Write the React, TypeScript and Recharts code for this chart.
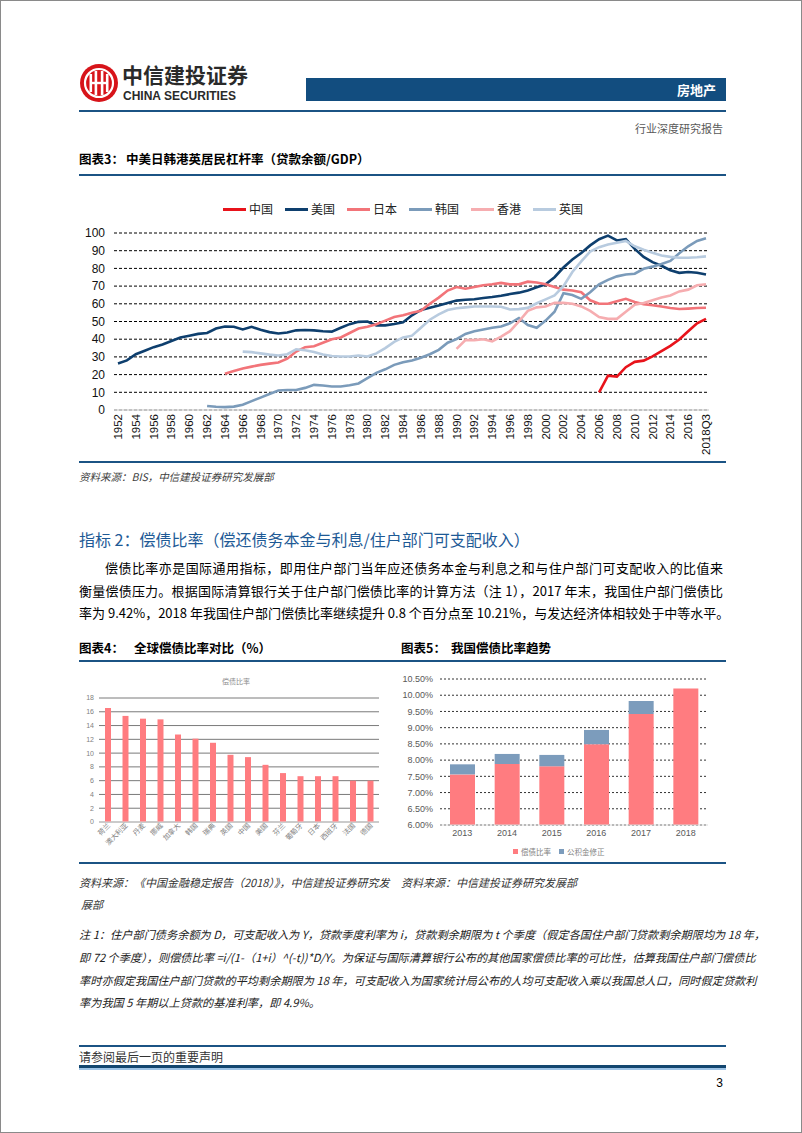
import React from 'react';
import { LineChart, Line, BarChart, Bar, XAxis, YAxis, CartesianGrid } from 'recharts';

const CJK = '"Noto Sans CJK SC", "Noto Sans", sans-serif';
const ARIAL = '"Liberation Sans", Arial, sans-serif';
const BLUE = '#1B5384';

// 图表3：中美日韩港英居民杠杆率（贷款余额/GDP）
const years = [
  1952, 1953, 1954, 1955, 1956, 1957, 1958, 1959, 1960, 1961, 1962, 1963, 1964, 1965, 1966, 1967,
  1968, 1969, 1970, 1971, 1972, 1973, 1974, 1975, 1976, 1977, 1978, 1979, 1980, 1981, 1982, 1983,
  1984, 1985, 1986, 1987, 1988, 1989, 1990, 1991, 1992, 1993, 1994, 1995, 1996, 1997, 1998, 1999,
  2000, 2001, 2002, 2003, 2004, 2005, 2006, 2007, 2008, 2009, 2010, 2011, 2012, 2013, 2014, 2015,
  2016, 2017, 2018,
];
const lastYearLabel = '2018Q3';
const leverageTicks = [0, 10, 20, 30, 40, 50, 60, 70, 80, 90, 100];

const china = [10, 19.4, 18.9, 24.2, 27.2, 27.9, 30.3, 33.3, 36.2, 39.8, 44.5, 49, 51.5]; // 2006-
const usa = [
  26.3, 28, 31.5, 33.5, 35.5, 37, 39, 41, 42, 43,
  43.5, 46, 47.2, 47, 45.5, 47, 45.3, 44, 43.2, 43.8,
  45, 45.2, 45, 44.5, 44.3, 46.5, 48.5, 49.8, 50, 47.8,
  47.8, 48.6, 49.6, 53.5, 56.5, 57.8, 59, 60.5, 61.8, 62.3,
  62.6, 63.3, 63.8, 64.5, 65.5, 66.3, 67.5, 69.3, 71, 75,
  80.5, 85, 88.7, 93, 96.5, 98.5, 95.8, 96.5, 91, 86.5,
  83.5, 81.5, 79, 77.5, 78, 77.5, 76.5,
]; // 1952-
const japan = [
  20.5, 22, 23.5, 24.5, 25.5, 26.2, 26.8, 29, 33, 35.5,
  36, 38, 40, 41, 43.5, 46, 47, 48.5, 50.5, 52.5,
  53.5, 55, 56, 60, 63.5, 67.5, 69.5, 68.5, 69.5, 70.5,
  71, 71.8, 71, 71, 72.5, 72, 71, 69.5, 68, 67.5,
  66.5, 62, 60, 60, 61.5, 62.8, 61, 59.8, 59.2, 58.5,
  57.6, 57.1, 57.3, 57.6, 57.8,
]; // 1964-
const korea = [
  2.3, 1.8, 1.6, 1.9, 3, 5, 7, 9, 11, 11.3,
  11.3, 12.5, 14.2, 13.8, 13.3, 13.3, 14, 15, 18, 21,
  23, 25.5, 27, 28, 29.5, 31.5, 34, 38, 40, 43,
  44.5, 45.5, 46.5, 47.2, 49, 52, 48, 46.5, 50.5, 55.5,
  66, 65, 62.8, 66.5, 71, 73.5, 75.5, 76.6, 77, 79.8,
  81, 82.5, 84.2, 88.5, 92.5, 95.5, 97,
]; // 1962-
const hongkong = [
  34.5, 39.5, 39.5, 40, 38.8, 41.5, 44.5, 50, 56, 58,
  58.5, 60.5, 60.5, 60, 58.5, 56, 52.5, 51.5, 51.5, 55.5,
  59.5, 60.5, 62, 63.5, 64.7, 67, 68, 70.5, 71,
]; // 1990-
const uk = [
  33, 32.7, 32, 31.3, 30.8, 31.5, 34.3, 33.8, 32.8, 31.3,
  30.5, 30.2, 30.2, 30.8, 30.2, 32, 35, 38.5, 41, 42,
  46.5, 51, 54, 56.5, 57.5, 58, 58.5, 58.5, 58.5, 58.3,
  56.8, 57, 57.7, 60.3, 62.5, 64.7, 70, 78, 84, 89.5,
  92, 93.5, 94.5, 95.5, 92.5, 90.5, 88.8, 87.3, 86.5, 86,
  86, 86.3, 86.8,
]; // 1966-

const leverageSeries = [
  { name: '中国', start: 2006, values: china, color: '#E8131B' },
  { name: '美国', start: 1952, values: usa, color: '#0E3F6E' },
  { name: '日本', start: 1964, values: japan, color: '#F27479' },
  { name: '韩国', start: 1962, values: korea, color: '#7B9BBA' },
  { name: '香港', start: 1990, values: hongkong, color: '#F6ADB0' },
  { name: '英国', start: 1966, values: uk, color: '#B8CBDF' },
];

const leverageRows = years.map((year) => {
  const row: Record<string, any> = { year: year === 2018 ? lastYearLabel : String(year) };
  leverageSeries.forEach((s) => {
    const i = year - s.start;
    row[s.name] = i >= 0 && i < s.values.length ? s.values[i] : null;
  });
  return row;
});

// 图表4：全球偿债比率对比（%）
const countries = ['荷兰', '澳大利亚', '丹麦', '挪威', '加拿大', '韩国', '瑞典', '英国', '中国', '美国', '芬兰', '葡萄牙', '日本', '西班牙', '法国', '德国'];
const dsrValues = [16.55, 15.4, 15.0, 14.9, 12.7, 12.1, 11.5, 9.75, 9.42, 8.3, 7.1, 6.65, 6.65, 6.65, 6.0, 6.0];
const dsrTicks = [0, 2, 4, 6, 8, 10, 12, 14, 16, 18];
const dsrRows = countries.map((c, i) => ({ country: c, value: dsrValues[i] }));

// 图表5：我国偿债比率趋势
const trendYears = ['2013', '2014', '2015', '2016', '2017', '2018'];
const dsrChina = [7.56, 7.88, 7.81, 8.49, 9.42, 10.21];
const fundAdjust = [0.31, 0.31, 0.35, 0.44, 0.40, 0];
const trendTicks = [6, 6.5, 7, 7.5, 8, 8.5, 9, 9.5, 10, 10.5];
const trendRows = trendYears.map((y, i) => ({ year: y, 偿债比率: dsrChina[i], 公积金修正: fundAdjust[i] }));

const Txt = ({ x, y, size, children, style }: any) => (
  <div style={{ position: 'absolute', left: x, top: y, fontSize: size, lineHeight: 1, whiteSpace: 'nowrap', ...style }}>
    {children}
  </div>
);

const HLine = ({ x, y, w, h, color }: any) => (
  <div style={{ position: 'absolute', left: x, top: y, width: w, height: h, background: color }} />
);

const JLine = ({ y, x = 78, w = 644, size, children, style }: any) => (
  <div
    style={{
      position: 'absolute', left: x, top: y, width: w, fontSize: size, lineHeight: 1,
      textAlign: 'justify', textAlignLast: 'justify', whiteSpace: 'nowrap', ...style,
    }}
  >
    {children}
  </div>
);

const YearTick = ({ x, y, payload }: any) => (
  <text
    x={x + 4}
    y={y}
    transform={`rotate(-90, ${x + 4}, ${y})`}
    textAnchor="end"
    fontSize={11.5}
    fontFamily={ARIAL}
    fill="#111"
  >
    {payload.value}
  </text>
);

const SlantTick = ({ x, y, payload }: any) => (
  <text
    x={x + 3}
    y={y + 2}
    transform={`rotate(-45, ${x + 3}, ${y + 2})`}
    textAnchor="end"
    fontSize={7}
    fontFamily={CJK}
    fill="#7f7f7f"
  >
    {payload.value}
  </text>
);

const Logo = () => (
  <svg style={{ position: 'absolute', left: 78, top: 62 }} width={40} height={40} viewBox="0 0 40 40">
    <circle cx={20} cy={20} r={19} fill="#D7141A" />
    <circle cx={20} cy={20} r={14} fill="none" stroke="#fff" strokeWidth={2.2} />
    <rect x={10.5} y={11} width={2.6} height={18} fill="#fff" />
    <rect x={26.9} y={11} width={2.6} height={18} fill="#fff" />
    <rect x={15.6} y={8} width={2.6} height={24} fill="#fff" />
    <rect x={21.8} y={8} width={2.6} height={24} fill="#fff" />
    <rect x={13} y={18.8} width={14} height={2.4} fill="#fff" />
  </svg>
);

const LeverageLegend = () => (
  <div style={{ position: 'absolute', left: 222, top: 202, display: 'flex', gap: 12, alignItems: 'center' }}>
    {leverageSeries.map((s) => (
      <div key={s.name} style={{ display: 'flex', alignItems: 'center' }}>
        <span style={{ display: 'inline-block', width: 23, height: 3, background: s.color }} />
        <span style={{ marginLeft: 3, fontSize: 12, lineHeight: 1, color: '#222' }}>{s.name}</span>
      </div>
    ))}
  </div>
);

export default function App() {
  return (
    <div
      style={{
        position: 'absolute', left: 0, top: 0, width: 802, height: 1133, background: '#fff',
        border: '1px solid #8a8a8a', boxSizing: 'border-box', overflow: 'hidden', fontFamily: CJK, color: '#000',
      }}
    >
      {/* header */}
      <Logo />
      <Txt x={121} y={63} size={21} style={{ fontWeight: 700, color: '#2a2a2a', lineHeight: '21px' }}>中信建投证券</Txt>
      <Txt x={122} y={89} size={12} style={{ fontFamily: ARIAL, fontWeight: 700, color: '#2a2a2a' }}>CHINA SECURITIES</Txt>
      <div style={{ position: 'absolute', left: 305, top: 77, width: 420, height: 23, background: '#124D7F' }} />
      <Txt x={305} y={82} size={13} style={{ width: 410, textAlign: 'right', color: '#fff', fontWeight: 700 }}>房地产</Txt>
      <HLine x={78} y={109} w={647} h={1.5} color={BLUE} />
      <Txt x={500} y={122} size={11} style={{ width: 222, textAlign: 'right', color: '#595959' }}>行业深度研究报告</Txt>

      {/* 图表3 */}
      <Txt x={78} y={152} size={12.5} style={{ fontWeight: 700 }}>图表3：</Txt>
      <Txt x={125} y={152} size={12.5} style={{ fontWeight: 700 }}>中美日韩港英居民杠杆率（贷款余额/GDP）</Txt>
      <HLine x={78} y={173} w={647} h={2} color={BLUE} />
      <LeverageLegend />
      <div style={{ position: 'absolute', left: 70, top: 190 }}>
        <LineChart width={650} height={275} data={leverageRows} margin={{ top: 42, right: 12, left: 0, bottom: 0 }}>
          <CartesianGrid vertical={false} stroke="#000" strokeDasharray="3 2" />
          <XAxis
            dataKey="year"
            interval={1}
            height={56}
            tick={<YearTick />}
            tickLine={false}
            tickSize={0}
            tickMargin={4}
            axisLine={{ stroke: '#d9d9d9', strokeWidth: 1.5 }}
            padding={{ left: 4, right: 3 }}
          />
          <YAxis
            width={43}
            domain={[0, 100]}
            ticks={leverageTicks}
            interval={0}
            tick={{ fontSize: 12, fill: '#111', fontFamily: ARIAL }}
            tickLine={false}
            tickSize={0}
            tickMargin={9}
            axisLine={false}
          />
          {leverageSeries.map((s) => (
            <Line
              key={s.name}
              type="linear"
              dataKey={s.name}
              stroke={s.color}
              strokeWidth={2.6}
              dot={false}
              isAnimationActive={false}
            />
          ))}
        </LineChart>
      </div>
      <HLine x={78} y={460} w={647} h={2} color={BLUE} />
      <Txt x={78} y={471} size={10.5} style={{ fontStyle: 'italic', color: '#404040' }}>资料来源：BIS，中信建投证券研究发展部</Txt>

      {/* 指标2 */}
      <Txt x={78} y={530} size={16} style={{ color: '#1E5A96' }}>指标 2：偿债比率（偿还债务本金与利息/住户部门可支配收入）</Txt>
      <JLine y={559.5} x={104} w={618} size={13}>偿债比率亦是国际通用指标，即用住户部门当年应还债务本金与利息之和与住户部门可支配收入的比值来</JLine>
      <JLine y={582.5} size={13}>衡量偿债压力。根据国际清算银行关于住户部门偿债比率的计算方法（注 1），2017 年末，我国住户部门偿债比</JLine>
      <JLine y={604.5} size={13}>率为 9.42%，2018 年我国住户部门偿债比率继续提升 0.8 个百分点至 10.21%，与发达经济体相较处于中等水平。</JLine>

      {/* 图表4 / 图表5 titles */}
      <Txt x={78} y={641} size={12.5} style={{ fontWeight: 700 }}>图表4：</Txt>
      <Txt x={133} y={641} size={12.5} style={{ fontWeight: 700 }}>全球偿债比率对比（%）</Txt>
      <Txt x={400} y={641} size={12.5} style={{ fontWeight: 700 }}>图表5：</Txt>
      <Txt x={450} y={641} size={12.5} style={{ fontWeight: 700 }}>我国偿债比率趋势</Txt>
      <HLine x={78} y={659} w={647} h={2} color={BLUE} />

      {/* 图表4 */}
      <Txt x={205} y={677} size={7} style={{ width: 60, textAlign: 'center', color: '#8c8c8c' }}>偿债比率</Txt>
      <div style={{ position: 'absolute', left: 70, top: 670 }}>
        <BarChart width={320} height={185} data={dsrRows} margin={{ top: 27, right: 12, left: 0, bottom: 0 }}>
          <CartesianGrid vertical={false} stroke="#7a7a7a" />
          <XAxis
            dataKey="country"
            interval={0}
            height={34}
            tick={<SlantTick />}
            tickLine={false}
            tickSize={0}
            tickMargin={2}
            axisLine={{ stroke: '#d9d9d9' }}
          />
          <YAxis
            width={28}
            domain={[0, 18]}
            ticks={dsrTicks}
            interval={0}
            tick={{ fontSize: 7, fill: '#7f7f7f', fontFamily: ARIAL }}
            tickLine={false}
            tickSize={0}
            tickMargin={5}
            axisLine={false}
          />
          <Bar dataKey="value" fill="#FF7C80" barSize={6} isAnimationActive={false} />
        </BarChart>
      </div>

      {/* 图表5 */}
      <div style={{ position: 'absolute', left: 390, top: 665 }}>
        <BarChart width={330} height={180} data={trendRows} margin={{ top: 13, right: 13, left: 0, bottom: 0 }}>
          <CartesianGrid vertical={false} stroke="#333" strokeDasharray="2 2" />
          <XAxis
            dataKey="year"
            height={21}
            tick={{ fontSize: 9, fill: '#595959', fontFamily: ARIAL }}
            tickLine={false}
            tickSize={0}
            tickMargin={5}
            axisLine={{ stroke: '#d9d9d9' }}
          />
          <YAxis
            width={49}
            domain={[6, 10.5]}
            allowDataOverflow
            ticks={trendTicks}
            interval={0}
            tickFormatter={(v: number) => `${v.toFixed(2)}%`}
            tick={{ fontSize: 9, fill: '#595959', fontFamily: ARIAL }}
            tickLine={false}
            tickSize={0}
            tickMargin={7}
            axisLine={false}
          />
          <Bar dataKey="偿债比率" stackId="a" fill="#FF7C80" barSize={25} isAnimationActive={false} />
          <Bar dataKey="公积金修正" stackId="a" fill="#7C9CBC" barSize={25} isAnimationActive={false} />
        </BarChart>
      </div>
      <div style={{ position: 'absolute', left: 512, top: 847, display: 'flex', alignItems: 'center', gap: 8, fontSize: 7.5, lineHeight: 1, color: '#7f7f7f' }}>
        <div style={{ display: 'flex', alignItems: 'center' }}>
          <span style={{ width: 5, height: 5, background: '#FF7C80', marginRight: 3 }} />偿债比率
        </div>
        <div style={{ display: 'flex', alignItems: 'center' }}>
          <span style={{ width: 5, height: 5, background: '#7C9CBC', marginRight: 3 }} />公积金修正
        </div>
      </div>

      <HLine x={78} y={861} w={647} h={2} color={BLUE} />
      <Txt x={78} y={875.5} size={11} style={{ fontStyle: 'italic', color: '#333' }}>资料来源：《中国金融稳定报告（2018）》，中信建投证券研究发</Txt>
      <Txt x={80} y={897.5} size={11} style={{ fontStyle: 'italic', color: '#333' }}>展部</Txt>
      <Txt x={400} y={875.5} size={11} style={{ fontStyle: 'italic', color: '#333' }}>资料来源：中信建投证券研究发展部</Txt>

      {/* 注释 */}
      <JLine y={928} size={11.2} style={{ fontStyle: 'italic', color: '#222' }}>注 1：住户部门债务余额为 D，可支配收入为 Y，贷款季度利率为 i，贷款剩余期限为 t 个季度（假定各国住户部门贷款剩余期限均为 18 年，</JLine>
      <JLine y={951} size={11.2} style={{ fontStyle: 'italic', color: '#222' }}>即 72 个季度），则偿债比率 =i/(1-（1+i）^(-t))*D/Y。为保证与国际清算银行公布的其他国家偿债比率的可比性，估算我国住户部门偿债比</JLine>
      <JLine y={974} size={11.2} style={{ fontStyle: 'italic', color: '#222' }}>率时亦假定我国住户部门贷款的平均剩余期限为 18 年，可支配收入为国家统计局公布的人均可支配收入乘以我国总人口，同时假定贷款利</JLine>
      <Txt x={78} y={996} size={11.2} style={{ fontStyle: 'italic', color: '#222' }}>率为我国 5 年期以上贷款的基准利率，即 4.9%。</Txt>

      {/* footer */}
      <HLine x={78} y={1044} w={647} h={2} color={BLUE} />
      <Txt x={78} y={1050} size={12} style={{ color: '#333' }}>请参阅最后一页的重要声明</Txt>
      <HLine x={78} y={1064} w={647} h={3} color="#12466F" />
      <HLine x={78} y={1067} w={647} h={1.5} color="#9DC3E6" />
      <Txt x={700} y={1076} size={12} style={{ width: 22, textAlign: 'right', fontFamily: ARIAL }}>3</Txt>
    </div>
  );
}
